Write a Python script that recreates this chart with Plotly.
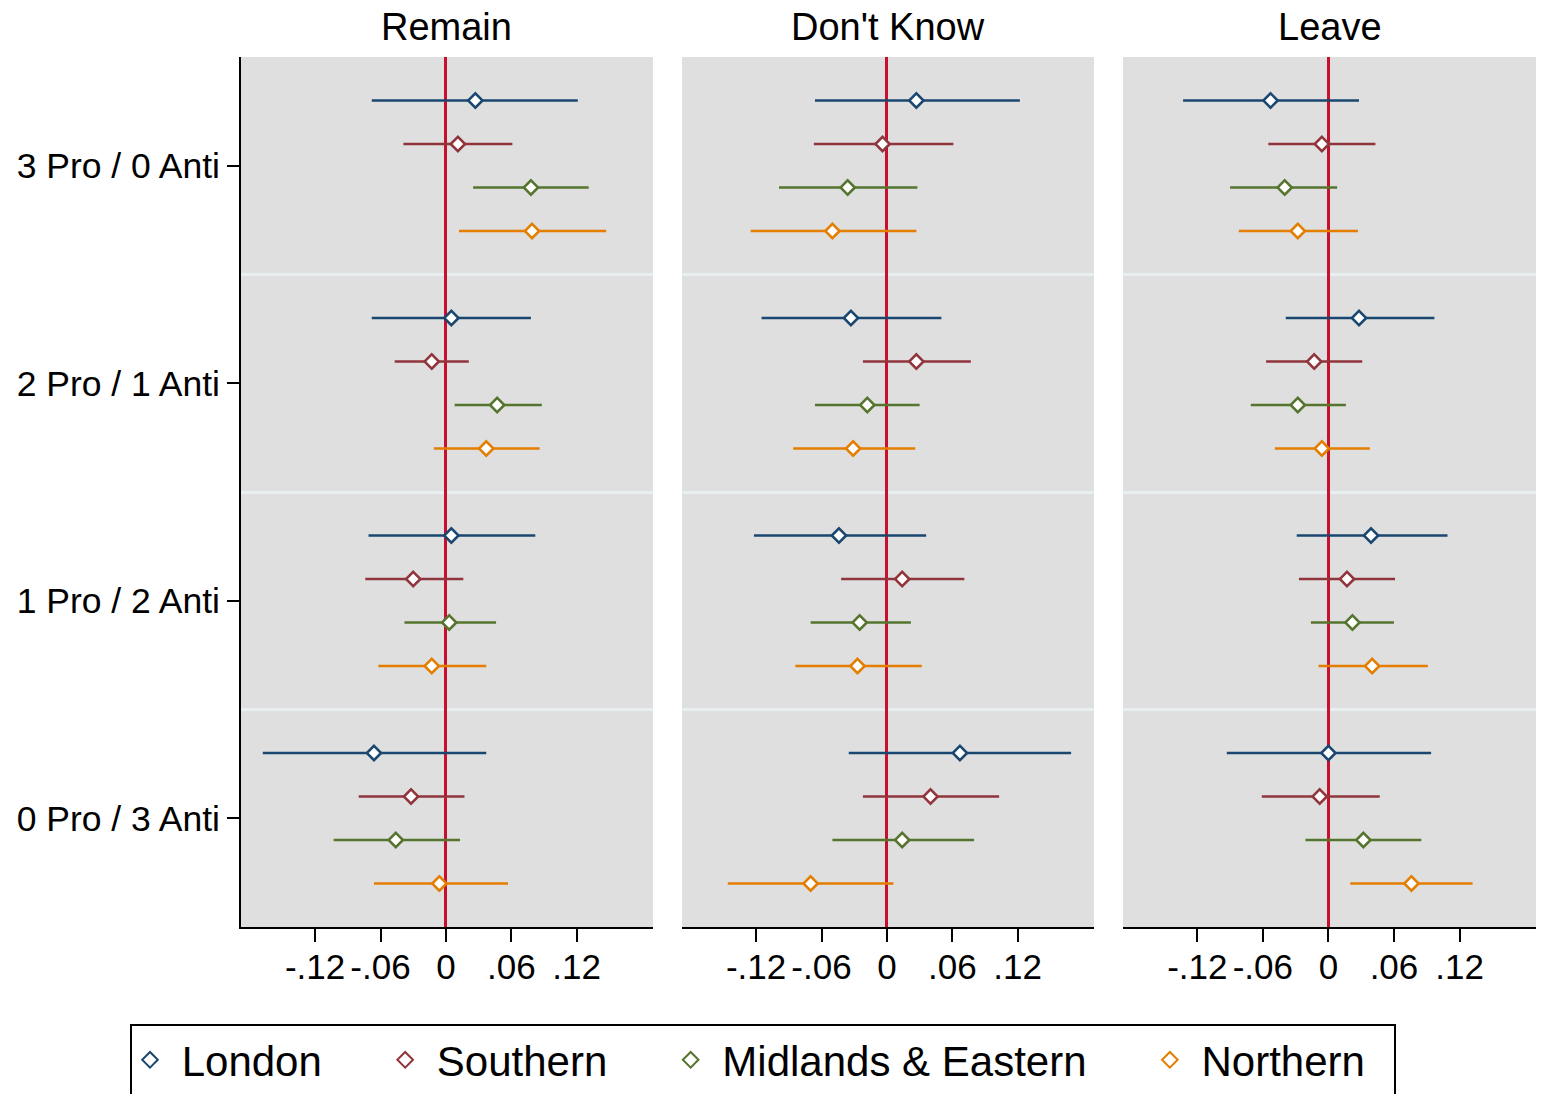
import plotly.graph_objects as go

groups = ["3 Pro / 0 Anti", "2 Pro / 1 Anti", "1 Pro / 2 Anti", "0 Pro / 3 Anti"]
group_pos = [3, 2, 1, 0]
regions = ["London", "Southern", "Midlands & Eastern", "Northern"]
colors = ["#1a476f", "#90353b", "#55752f", "#e37e00"]
panels = ["Remain", "Don't Know", "Leave"]
xtick_vals = [-0.12, -0.06, 0, 0.06, 0.12]
xtick_text = ["-.12", "-.06", "0", ".06", ".12"]

# estimates per region (rows: London, Southern, Midlands & Eastern, Northern), cols: groups
remain_est = [[0.027, 0.005, 0.005, -0.066], [0.011, -0.013, -0.030, -0.032],
              [0.078, 0.047, 0.003, -0.046], [0.079, 0.037, -0.013, -0.006]]
remain_lo = [[-0.068, -0.068, -0.071, -0.168], [-0.039, -0.047, -0.074, -0.080],
             [0.025, 0.008, -0.038, -0.103], [0.012, -0.011, -0.062, -0.066]]
remain_hi = [[0.121, 0.078, 0.082, 0.037], [0.061, 0.021, 0.016, 0.017],
             [0.131, 0.088, 0.046, 0.013], [0.147, 0.086, 0.037, 0.057]]

dk_est = [[0.027, -0.033, -0.044, 0.067], [-0.004, 0.027, 0.014, 0.040],
          [-0.036, -0.018, -0.025, 0.014], [-0.050, -0.031, -0.027, -0.070]]
dk_lo = [[-0.066, -0.115, -0.122, -0.035], [-0.067, -0.022, -0.042, -0.022],
         [-0.099, -0.066, -0.070, -0.050], [-0.125, -0.086, -0.084, -0.146]]
dk_hi = [[0.122, 0.050, 0.036, 0.169], [0.061, 0.077, 0.071, 0.103],
         [0.028, 0.030, 0.022, 0.080], [0.027, 0.026, 0.032, 0.006]]

leave_est = [[-0.053, 0.028, 0.039, 0.000], [-0.006, -0.013, 0.017, -0.008],
             [-0.040, -0.028, 0.022, 0.032], [-0.028, -0.006, 0.040, 0.076]]
leave_lo = [[-0.133, -0.039, -0.029, -0.093], [-0.055, -0.057, -0.027, -0.061],
            [-0.090, -0.071, -0.016, -0.021], [-0.082, -0.049, -0.009, 0.020]]
leave_hi = [[0.028, 0.097, 0.109, 0.094], [0.043, 0.031, 0.061, 0.047],
            [0.008, 0.016, 0.060, 0.085], [0.027, 0.038, 0.091, 0.132]]

panel_data = [(remain_est, remain_lo, remain_hi), (dk_est, dk_lo, dk_hi), (leave_est, leave_lo, leave_hi)]

W, H = 1542, 1094
FONT = "Liberation Sans, Arial, Helvetica, sans-serif"
x_domains = [(241 / W, 653 / W), (682 / W, 1094 / W), (1123 / W, 1536 / W)]
y_domain = (1 - 927 / H, 1 - 57 / H)

NB = "\u00a0"
legend_names = [NB + "London" + NB * 5, NB + "Southern" + NB * 5,
                NB + "Midlands & Eastern" + NB * 5, NB + "Northern" + NB * 2]

fig = go.Figure()
for p, (est, lo, hi) in enumerate(panel_data):
    ax = "" if p == 0 else str(p + 1)
    for r in range(4):
        ys = [g + 0.3 - 0.2 * r for g in group_pos]
        fig.add_trace(go.Scatter(
            x=est[r], y=ys, mode="markers",
            name=legend_names[r], legendgroup=regions[r], showlegend=(p == 0),
            xaxis="x" + ax, yaxis="y" + ax,
            marker=dict(symbol="diamond", size=11, color="white",
                        line=dict(color=colors[r], width=2.5)),
            error_x=dict(type="data", symmetric=False,
                         array=[h - e for h, e in zip(hi[r], est[r])],
                         arrayminus=[e - l for e, l in zip(est[r], lo[r])],
                         color=colors[r], thickness=2.6, width=0),
        ))

layout = dict(
    width=W, height=H,
    margin=dict(l=0, r=0, t=0, b=0, autoexpand=False),
    paper_bgcolor="white", plot_bgcolor="#dfdfdf",
    font=dict(family=FONT, color="black", size=35),
    showlegend=True,
    legend=dict(orientation="h", x=763 / W, xanchor="center", y=1 - 1024 / H, yanchor="top",
                bordercolor="black", borderwidth=2, font=dict(size=42),
                itemsizing="constant"),
)
for p in range(3):
    ax = "" if p == 0 else str(p + 1)
    layout["xaxis" + ax] = dict(
        domain=list(x_domains[p]), range=[-0.188, 0.19], anchor="y" + ax,
        tickvals=xtick_vals, ticktext=xtick_text, ticks="outside", ticklen=13,
        tickwidth=2, tickcolor="black", showline=True, linecolor="black", linewidth=2,
        showgrid=False, zeroline=True, zerolinecolor="#c8102e", zerolinewidth=2.5,
        tickfont=dict(size=35), ticklabelstandoff=-5, fixedrange=True,
    )
    layout["yaxis" + ax] = dict(
        domain=list(y_domain), range=[-0.5, 3.5], anchor="x" + ax,
        tickvals=group_pos, ticktext=groups,
        showticklabels=(p == 0), ticks="outside" if p == 0 else "", ticklen=12,
        tickwidth=2, tickcolor="black",
        showline=(p == 0), linecolor="black", linewidth=2,
        showgrid=False, zeroline=False, tickfont=dict(size=35.5),
        minor=dict(tickmode="array", tickvals=[0.5, 1.5, 2.5], showgrid=True,
                   gridcolor="#e8eff1", gridwidth=3, ticks=""),
    )
fig.update_layout(**layout)

for p, name in enumerate(panels):
    fig.add_annotation(text=name, x=(x_domains[p][0] + x_domains[p][1]) / 2, y=1 - 27 / H,
                       xref="paper", yref="paper", showarrow=False,
                       font=dict(size=38, family=FONT), xanchor="center", yanchor="middle")

fig.write_html("out.html")
